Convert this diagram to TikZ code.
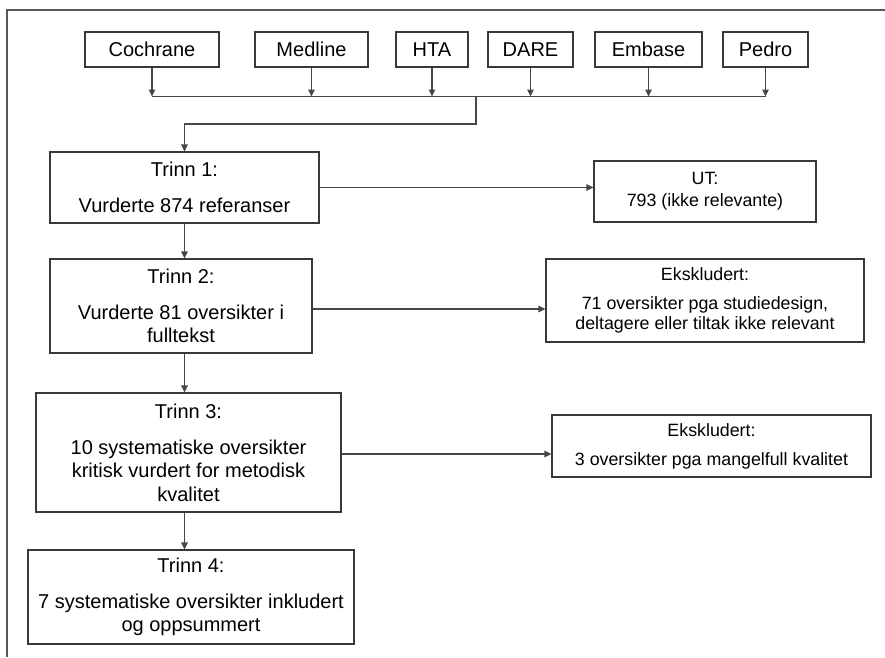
\documentclass[tikz,border=0pt]{standalone}
\usepackage{fontspec}
\setmainfont{Liberation Sans}
\usetikzlibrary{arrows.meta,calc}
\newcommand\mainfs{\fontsize{20}{23.5}\selectfont}
\newcommand\smallfs{\fontsize{17.8}{20}\selectfont}
\begin{document}
\begin{tikzpicture}[x=1pt,y=-1pt,
  box/.style={draw=black!78, line width=1.1pt, inner sep=0pt, align=center},
  srcbox/.style={box, font=\mainfs, minimum height=35pt},
  stepbox/.style={box, font=\mainfs},
  outbox/.style={box, font=\smallfs},
  conn/.style={draw=black!72, line width=1.1pt},
  arr/.style={conn, -{Triangle[length=7pt,width=6.5pt]}},
  frame/.style={draw=black!65, line width=1.5pt}
]
\useasboundingbox (0,0) rectangle (885,657);
% frame (left and top edges)
\draw[frame] (7,657) -- (7,10) -- (885,10);

% source boxes
\node[srcbox, minimum width=134pt] (coch) at (152,49.5) {Cochrane};
\node[srcbox, minimum width=113pt] (med) at (311.5,49.5) {Medline};
\node[srcbox, minimum width=72pt] (hta) at (432,49.5) {HTA};
\node[srcbox, minimum width=85pt] (dare) at (530.5,49.5) {DARE};
\node[srcbox, minimum width=107pt] (emb) at (648.5,49.5) {Embase};
\node[srcbox, minimum width=85pt] (ped) at (765.5,49.5) {Pedro};

\coordinate (bus) at (0,96.5);
\coordinate (j1) at (476,96.5);
\coordinate (j2) at (476,124);

% steps
\node[stepbox, minimum width=269pt, minimum height=71pt] (t1) at (184.5,187.5)
  {Trinn 1:\\[12.5pt]Vurderte 874 referanser};
\node[stepbox, minimum width=262pt, minimum height=94pt] (t2) at (181,306)
  {Trinn 2:\\[12.5pt]Vurderte 81 oversikter i\\fulltekst};
\node[stepbox, minimum width=305pt, minimum height=119pt] (t3) at (188.5,452.5)
  {Trinn 3:\\[12.5pt]10 systematiske oversikter\\kritisk vurdert for metodisk\\kvalitet};
\node[stepbox, minimum width=326pt, minimum height=94pt] (t4) at (191,597)
  {Trinn 4:\\[12.5pt]7 systematiske oversikter inkludert\\og oppsummert};

% out boxes
\node[outbox, minimum width=222pt, minimum height=61pt] (ut) at (705,191.5)
  {UT:\\[2pt]793 (ikke relevante)};
\node[outbox, minimum width=318pt, minimum height=83pt] (e1) at (705,300.5)
  {Ekskludert:\\[9pt]71 oversikter pga studiedesign,\\deltagere eller tiltak ikke relevant};
\node[outbox, minimum width=319pt, minimum height=62pt] (e2) at (711.5,446)
  {Ekskludert:\\[9pt]3 oversikter pga mangelfull kvalitet};

% source connectors
\foreach \s in {coch,med,hta,dare,emb,ped}
  \draw[arr] (\s.south) -- (\s.south |- bus);
\draw[conn] (coch.south |- bus) -- (ped.south |- bus);
\draw[arr] (j1) -- (j2) -- (j2 -| t1.north) -- (t1.north);

% step connectors
\draw[arr] (t1.south) -- (t1.south |- t2.north);
\draw[arr] (t1.south |- t2.south) -- (t1.south |- t3.north);
\draw[arr] (t1.south |- t3.south) -- (t1.south |- t4.north);

% exclusion connectors
\draw[arr] (t1.east) -- (t1.east -| ut.west);
\draw[arr] ([yshift=-3pt]t2.east) -- ([yshift=-3pt]t2.east -| e1.west);
\draw[arr] ([yshift=-1.5pt]t3.east) -- ([yshift=-1.5pt]t3.east -| e2.west);
\end{tikzpicture}
\end{document}
